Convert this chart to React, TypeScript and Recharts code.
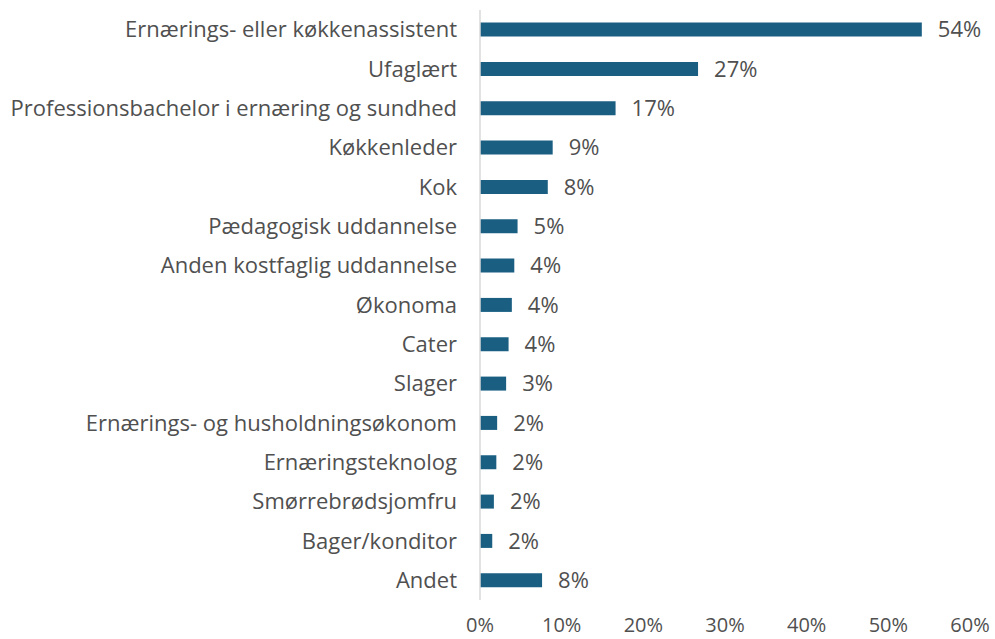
import React from "react";
import { BarChart, Bar, XAxis, YAxis, LabelList } from "recharts";

const categories = [
  "Ernærings- eller køkkenassistent",
  "Ufaglært",
  "Professionsbachelor i ernæring og sundhed",
  "Køkkenleder",
  "Kok",
  "Pædagogisk uddannelse",
  "Anden kostfaglig uddannelse",
  "Økonoma",
  "Cater",
  "Slager",
  "Ernærings- og husholdningsøkonom",
  "Ernæringsteknolog",
  "Smørrebrødsjomfru",
  "Bager/konditor",
  "Andet",
];

// share of respondents, in percent
const shares = [54.1, 26.7, 16.6, 8.9, 8.3, 4.6, 4.2, 3.9, 3.5, 3.2, 2.1, 2.0, 1.7, 1.5, 7.6];
const labels = ["54%", "27%", "17%", "9%", "8%", "5%", "4%", "4%", "4%", "3%", "2%", "2%", "2%", "2%", "8%"];
const xTicks = [0, 10, 20, 30, 40, 50, 60];

const data = categories.map((name, i) => ({ name, value: shares[i], label: labels[i] }));

const FONT = "'Open Sans', 'Noto Sans', sans-serif";
const TEXT = "#505050";
const SIZE = 22;

export default function App() {
  return (
    <div style={{ position: "absolute", left: 0, top: 0, fontFamily: FONT }}>
      <BarChart
        width={995}
        height={639}
        data={data}
        layout="vertical"
        margin={{ top: 10, right: 25, bottom: 0, left: 0 }}
        barCategoryGap="32%"
      >
        <XAxis
          type="number"
          domain={[0, 60]}
          ticks={xTicks}
          tickFormatter={(v) => `${v}%`}
          axisLine={false}
          tickLine={false}
          tickSize={0}
          tickMargin={18}
          height={39}
          tick={{ fill: TEXT, fontSize: 20, fontFamily: FONT }}
        />
        <YAxis
          type="category"
          dataKey="name"
          width={480}
          axisLine={{ stroke: "#d9d9d9", strokeWidth: 1.5 }}
          tickLine={false}
          tickSize={0}
          tickMargin={23}
          interval={0}
          tick={{ fill: TEXT, fontSize: SIZE, fontFamily: FONT }}
        />
        <Bar dataKey="value" fill="#1a5f82" isAnimationActive={false}>
          <LabelList
            dataKey="label"
            position="right"
            offset={16}
            fill={TEXT}
            fontSize={SIZE}
            fontFamily={FONT}
          />
        </Bar>
      </BarChart>
    </div>
  );
}
